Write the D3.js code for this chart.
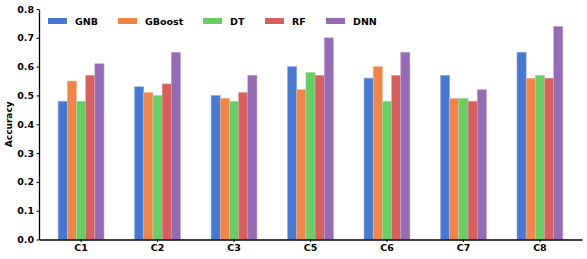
<!DOCTYPE html>
<html>
<head>
<meta charset="utf-8">
<script src="https://cdn.jsdelivr.net/npm/d3@7"></script>
<style>
  body { margin: 0; background: #fff; }
  text { font-family: "DejaVu Sans", sans-serif; font-weight: bold; }
</style>
</head>
<body>
<div id="chart"></div>
<script>
const categories = ["C1", "C2", "C3", "C5", "C6", "C7", "C8"];
const models = ["GNB", "GBoost", "DT", "RF", "DNN"];
const gnb    = [0.48, 0.53, 0.50, 0.60, 0.56, 0.57, 0.65];
const gboost = [0.55, 0.51, 0.49, 0.52, 0.60, 0.49, 0.56];
const dt     = [0.48, 0.50, 0.48, 0.58, 0.48, 0.49, 0.57];
const rf     = [0.57, 0.54, 0.51, 0.57, 0.57, 0.48, 0.56];
const dnn    = [0.61, 0.65, 0.57, 0.70, 0.65, 0.52, 0.74];
const yTicks = [0.0, 0.1, 0.2, 0.3, 0.4, 0.5, 0.6, 0.7, 0.8];

const series = [gnb, gboost, dt, rf, dnn];
const colors = ["#4878d0", "#ee854a", "#6acc64", "#d65f5f", "#956cb4"];

const width = 587,
  height = 259,
  margin = ({ top: 9, right: 5, bottom: 19.5, left: 39 });

const svg = d3.select("#chart")
  .append("svg")
  .attr("width", width)
  .attr("height", height);

const x0 = d3.scaleBand()
  .domain(categories)
  .range([margin.left, width - margin.right])
  .paddingInner(0.4)
  .paddingOuter(0.25);

const x1 = d3.scaleBand()
  .domain(models)
  .range([0, x0.bandwidth()]);

const y = d3.scaleLinear()
  .domain([0, 0.8])
  .range([height - margin.bottom, margin.top]);

const groups = svg.append("g")
  .selectAll("g")
  .data(categories)
  .join("g")
  .attr("transform", d => `translate(${x0(d)},0)`);

groups.selectAll("rect")
  .data((c, i) => models.map((m, j) => ({ m, j, v: series[j][i] })))
  .join("rect")
  .attr("x", d => x1(d.m))
  .attr("y", d => y(d.v))
  .attr("width", x1.bandwidth())
  .attr("height", d => y(0) - y(d.v))
  .attr("fill", d => colors[d.j])
  .attr("stroke", d => d3.interpolateRgb(colors[d.j], "#fff")(0.4))
  .attr("stroke-width", 0.6);

const yAxis = svg.append("g")
  .attr("transform", `translate(${margin.left},0)`)
  .call(d3.axisLeft(y).tickValues(yTicks).tickFormat(d3.format(".1f")).tickSize(2.5).tickPadding(2.5).tickSizeOuter(0));

const xAxis = svg.append("g")
  .attr("transform", `translate(0,${height - margin.bottom})`)
  .call(d3.axisBottom(x0).tickSize(2.5).tickPadding(2.5).tickSizeOuter(0));

svg.selectAll(".domain").attr("stroke", "#000").attr("stroke-width", 1.3);
svg.selectAll(".tick line").attr("stroke", "#000").attr("stroke-width", 1);
svg.selectAll(".tick text").attr("font-size", 9.5).attr("fill", "#000");

svg.append("text")
  .attr("transform", `translate(12,${(margin.top + height - margin.bottom) / 2}) rotate(-90)`)
  .attr("text-anchor", "middle")
  .attr("font-size", 9)
  .text("Accuracy");

const legendX = [48, 118, 203, 265, 326];
const legend = svg.append("g")
  .selectAll("g")
  .data(models)
  .join("g")
  .attr("transform", (d, i) => `translate(${legendX[i]},18)`);

legend.append("rect")
  .attr("width", 19)
  .attr("height", 6)
  .attr("fill", (d, i) => colors[i]);

legend.append("text")
  .attr("x", 27)
  .attr("y", 6.5)
  .attr("font-size", 9.5)
  .text(d => d);
</script>
</body>
</html>
